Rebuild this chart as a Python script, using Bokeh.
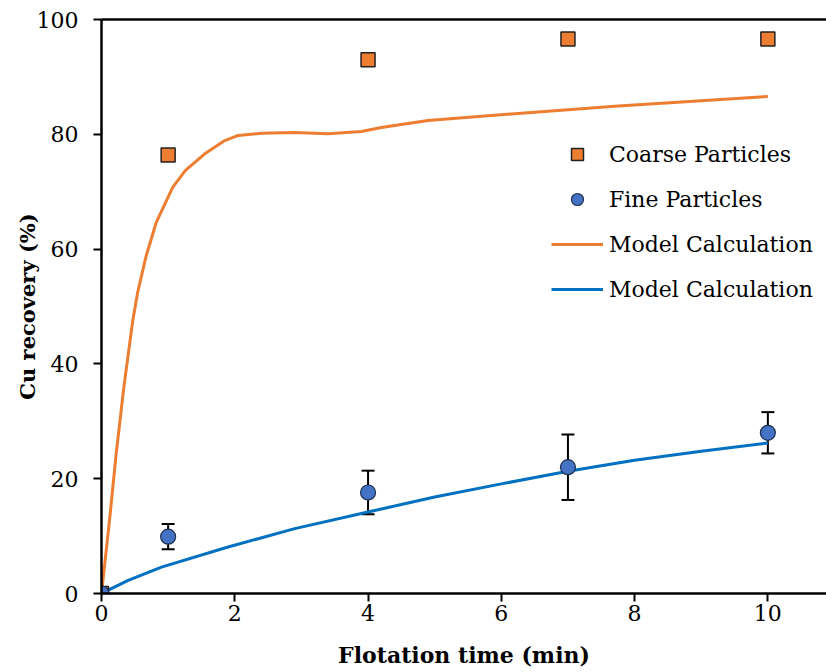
from bokeh.plotting import figure
from bokeh.models import (ColumnDataSource, Whisker, TeeHead, Legend, LegendItem,
                          LinearAxis, Range1d, FixedTicker)
from bokeh.embed import file_html
from bokeh.resources import INLINE

# Measured recoveries
time_min = [0, 1, 4, 7, 10]
coarse_recovery = [0, 76.4, 93.0, 96.6, 96.6]
fine_recovery = [0, 9.9, 17.6, 22.0, 28.0]
fine_err = [0, 2.2, 3.8, 5.7, 3.6]

# Model curves
coarse_model_t = [0, 0.12, 0.22, 0.335, 0.47, 0.545, 0.67, 0.82, 1.07, 1.26, 1.55,
                  1.85, 2.05, 2.4, 2.9, 3.4, 3.9, 4.2, 4.9, 6.2, 7.7, 10]
coarse_model = [0, 12.7, 24.3, 35.9, 47.6, 52.6, 58.8, 64.6, 70.8, 73.7, 76.6,
                78.9, 79.8, 80.2, 80.3, 80.1, 80.5, 81.2, 82.4, 83.6, 84.9, 86.6]
fine_model_t = [0, 0.4, 0.9, 1.9, 2.9, 4, 5, 6, 7, 8, 9, 10]
fine_model = [0, 2.3, 4.6, 8.1, 11.3, 14.2, 16.8, 19.1, 21.3, 23.2, 24.8, 26.2]

x_ticks = [0, 2, 4, 6, 8, 10]
y_ticks = [0, 20, 40, 60, 80, 100]

ORANGE = "#ED7D31"
BLUE_PT = "#4472C4"
BLUE_LN = "#0070C0"
FONT = "DejaVu Serif"

p = figure(width=826, height=672, output_backend="svg", toolbar_location=None,
           x_range=Range1d(0, 10.88), y_range=Range1d(0, 100),
           min_border_left=101, min_border_right=0, min_border_top=19,
           min_border_bottom=79)
p.outline_line_color = None
p.grid.visible = False
p.background_fill_color = "white"
p.border_fill_color = "white"

for ax, ticks in ((p.xaxis[0], x_ticks), (p.yaxis[0], y_ticks)):
    ax.ticker = FixedTicker(ticks=ticks)
    ax.axis_line_width = 2.5
    ax.axis_line_color = "black"
    ax.major_tick_line_width = 2
    ax.major_tick_line_color = "black"
    ax.major_tick_in = 0
    ax.major_tick_out = 8
    ax.minor_tick_line_color = None
    ax.major_label_text_font = FONT
    ax.major_label_text_font_size = "22px"
    ax.major_label_text_color = "black"
    ax.axis_label_text_font = FONT
    ax.axis_label_text_font_style = "bold"
    ax.axis_label_text_color = "black"

p.xaxis.axis_label = "Flotation time (min)"
p.yaxis.axis_label = "Cu recovery (%)"
p.xaxis.axis_label_text_font_size = "22px"
p.yaxis.axis_label_text_font_size = "21px"
p.xaxis.major_label_standoff = 3
p.yaxis.major_label_standoff = 15
p.xaxis.axis_label_standoff = 18
p.yaxis.axis_label_standoff = -6

# top frame line
top = LinearAxis(ticker=FixedTicker(ticks=[]), major_label_text_font_size="0px",
                 axis_line_width=2.5, axis_line_color="black",
                 major_tick_line_color=None, minor_tick_line_color=None)
p.add_layout(top, "above")

# error bars on fine-particle data
err_src = ColumnDataSource(data=dict(
    x=time_min,
    upper=[v + e for v, e in zip(fine_recovery, fine_err)],
    lower=[v - e for v, e in zip(fine_recovery, fine_err)],
))
whisk = Whisker(source=err_src, base="x", upper="upper", lower="lower",
                line_color="black", line_width=2,
                upper_head=TeeHead(size=13, line_width=2, line_color="black"),
                lower_head=TeeHead(size=13, line_width=2, line_color="black"))
p.add_layout(whisk)

l_coarse = p.line(coarse_model_t, coarse_model, line_color=ORANGE, line_width=3,
                  line_join="round")
l_fine = p.line(fine_model_t, fine_model, line_color=BLUE_LN, line_width=3,
                line_join="round")

sq = p.scatter(time_min, coarse_recovery, marker="square", size=14,
               fill_color=ORANGE, line_color="#222222", line_width=1.5)
ci = p.scatter(time_min, fine_recovery, marker="circle", size=15,
               fill_color=BLUE_PT, line_color="#1F2F4F", line_width=1.2)

legend = Legend(items=[
    LegendItem(label="Coarse Particles", renderers=[sq]),
    LegendItem(label="Fine Particles", renderers=[ci]),
    LegendItem(label="Model Calculation", renderers=[l_coarse]),
    LegendItem(label="Model Calculation", renderers=[l_fine]),
], location=(450, 289), border_line_color=None, background_fill_alpha=0,
    padding=0, margin=0, spacing=15, glyph_width=52, glyph_height=30,
    label_height=30, label_standoff=6, label_text_font=FONT,
    label_text_font_size="22px", label_text_color="black")
p.add_layout(legend, "center")

open("out.html", "w").write(file_html(p, INLINE))
